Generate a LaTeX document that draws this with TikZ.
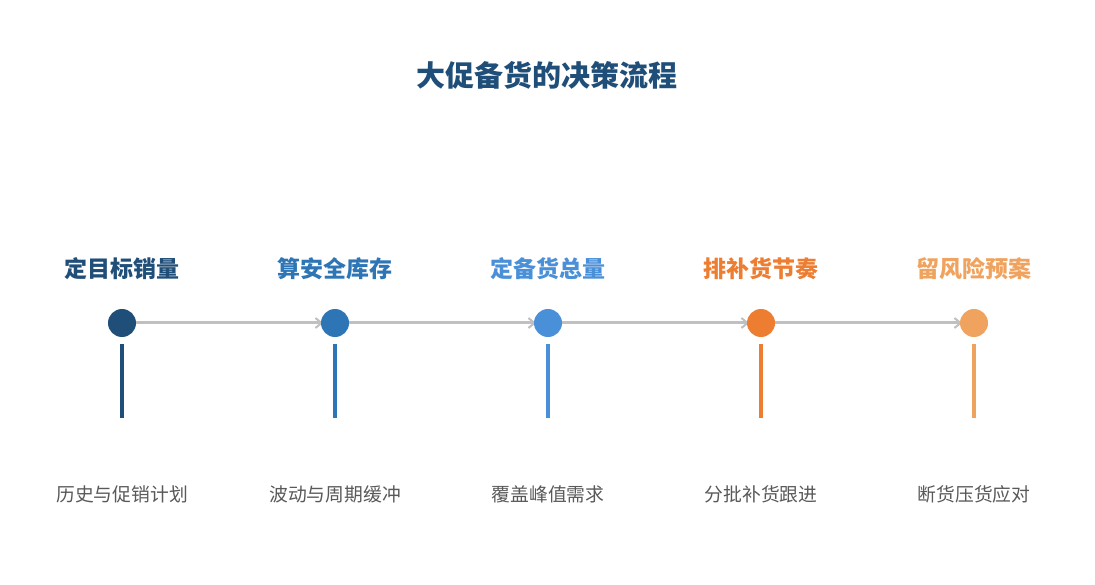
\documentclass[tikz,border=0pt]{standalone}
\usepackage{fontspec}
\setmainfont{Noto Sans CJK SC}
\usetikzlibrary{arrows.meta}
\definecolor{cA}{HTML}{1F4E79}
\definecolor{cB}{HTML}{2E75B6}
\definecolor{cC}{HTML}{4A90D9}
\definecolor{cD}{HTML}{ED7D31}
\definecolor{cE}{HTML}{F0A35E}
\definecolor{lineg}{HTML}{C0C0C0}
\definecolor{txtg}{HTML}{595959}
\tikzset{
  dot/.style={circle,fill=#1,minimum size=28pt,inner sep=0pt},
  steptitle/.style={font=\fontsize{23}{26}\selectfont\bfseries,text=#1},
  desc/.style={font=\fontsize{18.8}{22}\selectfont,text=txtg},
  flow/.style={draw=lineg,line width=3pt,-{Straight Barb[length=6pt,width=10pt,line width=2pt]}},
  stem/.style={draw=#1,line width=3.5pt}
}
\begin{document}
\begin{tikzpicture}[x=1pt,y=-1pt]
\useasboundingbox[fill=white] (0,0) rectangle (1095,585);
\node[font=\fontsize{29}{32}\selectfont\bfseries,text=cA] (title) at (547,75) {大促备货的决策流程};
\foreach \i/\x/\c/\t/\d in {1/122/cA/定目标销量/历史与促销计划,2/335/cB/算安全库存/波动与周期缓冲,3/548/cC/定备货总量/覆盖峰值需求,4/761/cD/排补货节奏/分批补货跟进,5/974/cE/留风险预案/断货压货应对}{
  \coordinate (c\i) at (\x,323);
  \node[steptitle=\c] (t\i) at (\x,269) {\t};
  \node[desc] (d\i) at (\x,494) {\d};
  \coordinate (s\i) at (\x,344);
  \coordinate (e\i) at (\x,418);
  \draw[stem=\c] (s\i) -- (e\i);
}
\foreach \i/\j in {1/2,2/3,3/4,4/5}{
  \draw[flow] (c\i) -- ([xshift=-12pt]c\j);
}
\foreach \i/\c in {1/cA,2/cB,3/cC,4/cD,5/cE}{
  \node[dot=\c] (n\i) at (c\i) {};
}
\end{tikzpicture}
\end{document}
